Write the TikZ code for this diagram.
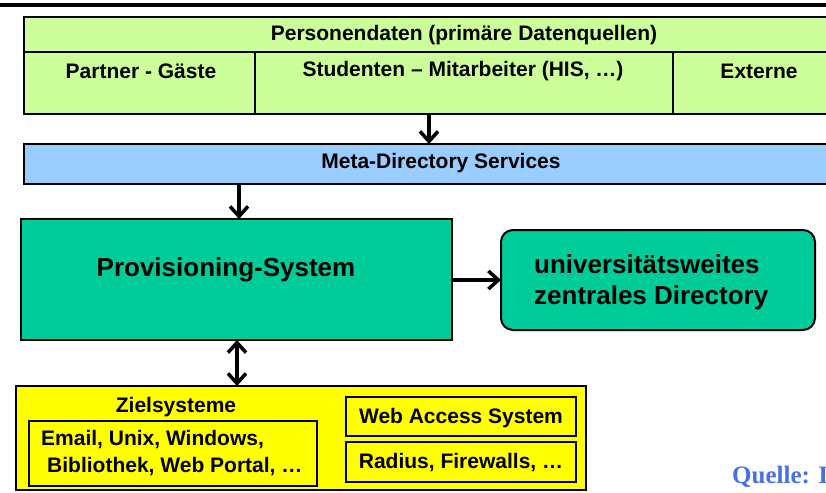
\documentclass[tikz,border=0pt]{standalone}
\usepackage{fontspec}
\usetikzlibrary{arrows.meta}
\newfontfamily\af{Liberation Sans}
\newfontfamily\tf{Liberation Serif}
\definecolor{lgreen}{RGB}{204,255,153}
\definecolor{lblue}{RGB}{153,204,255}
\definecolor{teal}{RGB}{0,204,153}
\definecolor{yell}{RGB}{255,255,0}
\definecolor{qblue}{RGB}{72,112,232}
\begin{document}
\begin{tikzpicture}[x=1pt,y=-1pt,
  box/.style={draw=black,line width=2pt,inner sep=0pt,outer sep=0pt},
  lbl/.style={inner sep=0pt,font=\af\bfseries\fontsize{21}{25}\selectfont},
  big/.style={inner sep=0pt,font=\af\bfseries\fontsize{26}{31}\selectfont},
  arr/.style={line width=3.5pt,-{Straight Barb[length=10pt,width=18pt]}},
  darr/.style={line width=3.5pt,{Straight Barb[length=10pt,width=18pt]}-{Straight Barb[length=10pt,width=18pt]}}]
\useasboundingbox (0,0) rectangle (826,492);
\clip (0,0) rectangle (826,492);
\fill[white] (0,0) rectangle (826,492);
\draw[line width=4pt] (0,5) -- (826,5);
% top table
\node[box,fill=lgreen,minimum width=876pt,minimum height=97pt] (pd) at (462,65.5) {};
\draw[line width=2pt] (24,52) -- (900,52);
\draw[line width=2pt] (255,52) -- (255,114);
\draw[line width=2pt] (673,52) -- (673,114);
\node[lbl] (pdt) at (464,35) {Personendaten (primäre Datenquellen)};
\node[lbl] (pg) at (141,71) {Partner - Gäste};
\node[lbl] (sm) at (463,71) {Studenten – Mitarbeiter (HIS, …)};
\node[lbl] (ex) at (759,71) {Externe};
% meta
\node[box,fill=lblue,minimum width=876pt,minimum height=40pt] (meta) at (462,164) {};
\node[lbl] (mt) at (441,163) {Meta-Directory Services};
% provisioning
\node[box,fill=teal,minimum width=431pt,minimum height=121pt] (prov) at (236.5,279.5) {};
\node[big] (pt) at (226,270) {Provisioning-System};
% directory
\node[box,fill=teal,rounded corners=12pt,minimum width=314pt,minimum height=100pt] (dir) at (658,280) {};
\node[big,anchor=west,align=left] (dt) at (534,282) {universitätsweites\\zentrales Directory};
% Zielsysteme
\node[box,fill=yell,minimum width=570pt,minimum height=104pt] (zs) at (301,438) {};
\node[lbl] (zt) at (176,407) {Zielsysteme};
\node[box,minimum width=288pt,minimum height=65pt] (zl) at (173,453.5) {};
\node[lbl,anchor=west,align=left,font=\af\bfseries\fontsize{21}{27}\selectfont] (zlt) at (41,453.5) {Email, Unix, Windows,\\\hspace{6pt}Bibliothek, Web Portal, …};
\node[box,minimum width=230pt,minimum height=39pt] (wa) at (461,416.5) {};
\node[lbl] (wat) at (461,418) {Web Access System};
\node[box,minimum width=230pt,minimum height=40pt] (ra) at (461,462) {};
\node[lbl] (rat) at (461,463) {Radius, Firewalls, …};
% arrows
\coordinate (x1) at (429,0);
\coordinate (x2) at (239,0);
\coordinate (x3) at (237,0);
\draw[arr] (pd.south -| x1) -- (meta.north -| x1);
\draw[arr] (meta.south -| x2) -- (prov.north -| x2);
\draw[arr] (prov.east |- dir.west) -- (dir.west);
\draw[darr] (prov.south -| x3) -- (zs.north -| x3);
% source
\node[anchor=west,inner sep=0pt,text=qblue,font=\tf\bfseries\fontsize{25}{30}\selectfont] (q) at (732,477) {Quelle: I};
\end{tikzpicture}
\end{document}
